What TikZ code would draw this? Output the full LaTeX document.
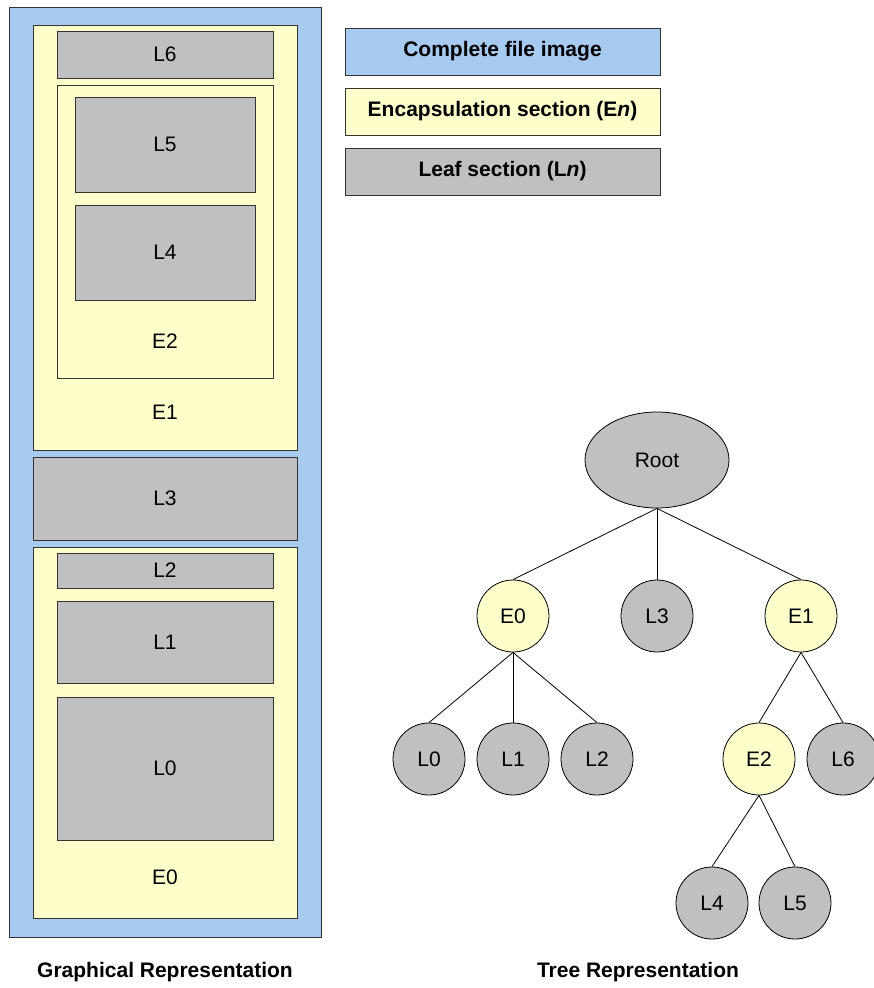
\documentclass[tikz,border=0pt]{standalone}
\usepackage{fontspec}
\setmainfont{Liberation Sans}
\usetikzlibrary{shapes.geometric}
\definecolor{fileblue}{HTML}{A6CAF0}
\definecolor{encyellow}{HTML}{FFFFCC}
\definecolor{leafgray}{HTML}{C0C0C0}
\definecolor{edgegray}{HTML}{333333}
\begin{document}
\begin{tikzpicture}[x=1pt,y=-1pt,
  font=\fontsize{21}{24}\selectfont,
  sect/.style={draw=edgegray, line width=1pt, inner sep=0pt, outer sep=0pt, anchor=north west},
  filebox/.style={sect, fill=fileblue},
  encbox/.style={sect, fill=encyellow},
  leafbox/.style={sect, fill=leafgray},
  tnode/.style={circle, draw=black, line width=0.8pt, minimum size=72pt, inner sep=0pt},
  tleaf/.style={tnode, fill=leafgray},
  tenc/.style={tnode, fill=encyellow},
  link/.style={draw=black, line width=0.8pt},
  caption/.style={font=\fontsize{21}{24}\selectfont\bfseries}
]
\useasboundingbox (0,0) rectangle (873,988);

% Nested section layout
\node[filebox, minimum width=312pt, minimum height=930pt] (file) at (9,7) {};
\node[encbox, minimum width=264pt, minimum height=425pt] (encE1) at (33,25) {};
\node[leafbox, minimum width=216pt, minimum height=47pt] (secL6) at (57,31) {};
\node[encbox, minimum width=216pt, minimum height=293pt] (encE2) at (57,85) {};
\node[leafbox, minimum width=180pt, minimum height=95pt] (secL5) at (75,97) {};
\node[leafbox, minimum width=180pt, minimum height=95pt] (secL4) at (75,205) {};
\node[leafbox, minimum width=264pt, minimum height=83pt] (secL3) at (33,457) {};
\node[encbox, minimum width=264pt, minimum height=371pt] (encE0) at (33,547) {};
\node[leafbox, minimum width=216pt, minimum height=35pt] (secL2) at (57,553) {};
\node[leafbox, minimum width=216pt, minimum height=82pt] (secL1) at (57,601) {};
\node[leafbox, minimum width=216pt, minimum height=143pt] (secL0) at (57,697) {};

\node (lblL6) at (secL6.center) {L6};
\node (lblL5) at (secL5.center) {L5};
\node (lblL4) at (secL4.center) {L4};
\node (lblE2) at (165,341) {E2};
\node (lblE1) at (165,412) {E1};
\node (lblL3) at (secL3.center) {L3};
\node (lblL2) at (secL2.center) {L2};
\node (lblL1) at (secL1.center) {L1};
\node (lblL0) at (secL0.center) {L0};
\node (lblE0) at (165,877) {E0};

% Legend
\node[filebox, minimum width=315pt, minimum height=47pt] (keyfile) at (345,28) {};
\node[encbox, minimum width=315pt, minimum height=47pt] (keyenc) at (345,88) {};
\node[leafbox, minimum width=315pt, minimum height=47pt] (keyleaf) at (345,148) {};
\node[caption] at (keyfile.center) {Complete file image};
\node[caption] at (keyenc.center) {Encapsulation section (E\textit{n})};
\node[caption] at (keyleaf.center) {Leaf section (L\textit{n})};

% Tree
\node[ellipse, draw=black, line width=0.8pt, fill=leafgray, minimum width=144pt, minimum height=96pt, inner sep=0pt] (root) at (657,460) {Root};
\node[tenc] (e0) at (513,616) {E0};
\node[tleaf] (l3) at (657,616) {L3};
\node[tenc] (e1) at (801,616) {E1};
\node[tleaf] (l0) at (429,759) {L0};
\node[tleaf] (l1) at (513,759) {L1};
\node[tleaf] (l2) at (597,759) {L2};
\node[tenc] (e2) at (759,759) {E2};
\node[tleaf] (l6) at (843,759) {L6};
\node[tleaf] (l4) at (712,903) {L4};
\node[tleaf] (l5) at (795,903) {L5};

\draw[link] (root.south) -- (e0.north);
\draw[link] (root.south) -- (l3.north);
\draw[link] (root.south) -- (e1.north);
\draw[link] (e0.south) -- (l0.north);
\draw[link] (e0.south) -- (l1.north);
\draw[link] (e0.south) -- (l2.north);
\draw[link] (e1.south) -- (e2.north);
\draw[link] (e1.south) -- (l6.north);
\draw[link] (e2.south) -- (l4.north);
\draw[link] (e2.south) -- (l5.north);

% Captions
\node[caption] (capgraph) at (165,972) {Graphical Representation};
\node[caption] (captree) at (638,972) {Tree Representation};
\end{tikzpicture}
\end{document}
